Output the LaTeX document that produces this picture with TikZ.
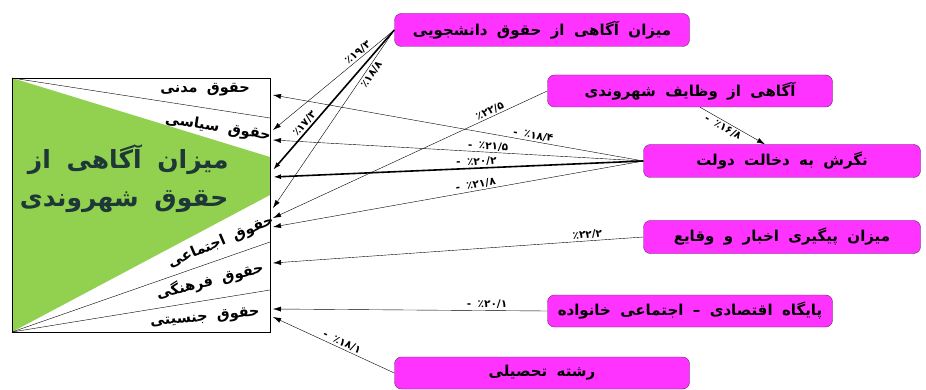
\documentclass[tikz,border=0pt]{standalone}
\usepackage{fontspec}
\setmainfont{DejaVu Sans}
\newfontfamily\fa[Script=Arabic]{DejaVu Sans}
\newfontfamily\fawide[Script=Arabic,WordSpace=1.8]{DejaVu Sans}
\TeXXeTstate=1
\usetikzlibrary{arrows.meta}
\definecolor{boxpink}{RGB}{255,51,255}
\definecolor{boxedge}{RGB}{110,30,110}
\definecolor{rightsgreen}{RGB}{146,208,80}
\definecolor{titleink}{RGB}{30,55,55}
\newcommand{\fatxt}[1]{{\fawide\beginR #1\endR}}

\begin{document}
\begin{tikzpicture}[->,>={Latex[length=8pt,width=5pt]},x=1pt,y=-1pt,thin]

                \tikzset{factor/.style={draw=boxedge, fill=boxpink, rounded corners=7pt, minimum height=33pt, inner sep=3pt, font=\fontsize{15}{17}\selectfont\bfseries},
                         pct/.style={sloped, inner sep=1.5pt, font=\fontsize{10.5}{12}\selectfont\bfseries},
                         rlab/.style={inner sep=0pt, font=\fontsize{14.5}{16}\selectfont\bfseries}}

                \useasboundingbox (0,0) rectangle (926,390);

                % frame with the triangle
                \fill[rightsgreen] (12,78) -- (270,157) -- (270,195) -- (12,332) -- cycle;
                \draw[-] (12,78) -- (270,118);
                \draw[-] (12,332) -- (270,242);
                \draw[-] (12,332) -- (270,290);
                \draw[-] (12,78) rectangle (270,332);

                \node[rlab] (civil) at (205,90) {\fatxt{حقوق مدنی}};
                \node[rlab, rotate=-9] (polit) at (218,128) {\fatxt{حقوق سیاسی}};
                \node[rlab, rotate=23] (social) at (221,242) {\fatxt{حقوق اجتماعی}};
                \node[rlab, rotate=14] (cult) at (210,281) {\fatxt{حقوق فرهنگی}};
                \node[rlab, rotate=5] (gender) at (205,318) {\fatxt{حقوق جنسیتی}};
                \node[anchor=east, align=right, text=titleink, font=\fontsize{25}{38}\selectfont\bfseries] (title) at (232,179) {\fatxt{میزان آگاهی از}\\\fatxt{حقوق شهروندی}};

                % arrow tips on the frame
                \foreach \n/\y in {1/95, 2/130, 3/140, 4/170, 5/177, 6/208, 7/218, 8/227, 9/263, 10/309, 11/317}
                    \coordinate (t\n) at (273,\y);

                \node[factor, minimum width=295pt] (student) at (542,30) {\fatxt{میزان آگاهی از حقوق دانشجویی}};
                \node[factor, minimum width=285pt, minimum height=32pt] (duty) at (690,91) {\fatxt{آگاهی از وظایف شهروندی}};
                \node[factor, minimum width=277pt] (state) at (782,161) {\fatxt{نگرش به دخالت دولت}};
                \node[factor, minimum width=277pt] (news) at (782,237) {\fatxt{میزان پیگیری اخبار و وقایع}};
                \node[factor, minimum width=285pt, minimum height=32pt] (family) at (690,311) {\fatxt{پایگاه اقتصادی – اجتماعی خانواده}};
                \node[factor, minimum width=295pt, minimum height=32pt] (field) at (542,373) {\fatxt{رشته تحصیلی}};

                \path (student.west) edge              node[pct, above, pos=0.27] {\fa ٪۱۹/۳} (t2);
                \path (student.west) edge[line width=1.6pt] node[pct, above, pos=0.7] {\fa ٪۱۷/۳} (t4);
                \path (student.west) edge              node[pct, below, pos=0.23] {\fa ٪۱۸/۸} (t6);
                \path (duty.west)    edge              node[pct, above, pos=0.2] {\fa ٪۲۲/۵} (t7);
                \path ([xshift=10pt]duty.south) edge   node[pct, below, pos=0.4] {\fa - ٪۱۶/۸} ([xshift=-17pt]state.north);
                \path (state.west)   edge              node[pct, above, pos=0.3] {\fa - ٪۱۸/۴} (t1);
                \path (state.west)   edge              node[pct, above, pos=0.42] {\fa - ٪۲۱/۵} (t3);
                \path (state.west)   edge[line width=1.6pt] node[pct, above, pos=0.45] {\fa - ٪۲۰/۲} (t5);
                \path (state.west)   edge              node[pct, above, pos=0.45] {\fa - ٪۲۱/۸} (t8);
                \path (news.west)    edge              node[pct, above, pos=0.15] {\fa ٪۲۲/۲} (t9);
                \path (family.west)  edge              node[pct, above, pos=0.22] {\fa - ٪۲۰/۱} (t10);
                \path (field.west)   edge              node[pct, above, pos=0.45] {\fa - ٪۱۸/۱} (t11);
            \end{tikzpicture}
\end{document}
